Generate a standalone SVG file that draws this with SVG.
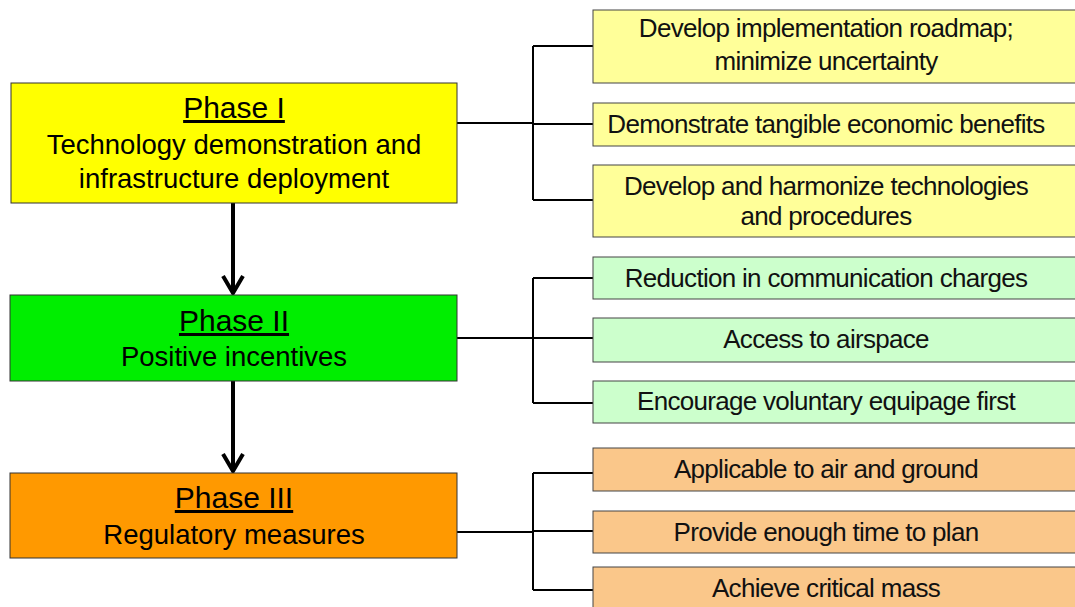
<svg xmlns="http://www.w3.org/2000/svg" width="1075" height="607" viewBox="0 0 1075 607">
<style>
.ph{stroke:#333;stroke-width:1}
.it{stroke:#444;stroke-width:1}
.t{font-family:"Liberation Sans",Arial,sans-serif;fill:#000;text-anchor:middle}
.pt{font-size:30px;text-decoration:underline}
.ps{font-size:27.5px}
.st{font-size:26px;letter-spacing:-0.7px;fill:#111}
.ln{stroke:#000;stroke-width:2;fill:none}
.ar{stroke:#000;stroke-width:4;fill:none}
</style>
<rect width="1075" height="607" fill="#fff"/>
<g id="connectors">
<path class="ar" d="M233 203V293M223 276L233 293L243 276"/>
<path class="ar" d="M233 381V471M223 454L233 471L243 454"/>
<path class="ln" d="M457 123H533M533 46V200M533 46H593M533 124H593M533 200H593"/>
<path class="ln" d="M457 338H533M533 278V403M533 278H593M533 338H593M533 403H593"/>
<path class="ln" d="M457 532H533M533 473V590M533 473H593M533 531H593M533 590H593"/>
</g>
<g id="phase1">
<rect class="ph" x="11" y="83" width="446" height="120" fill="#ffff00"/>
<text class="t pt" x="234" y="118">Phase I</text>
<text class="t ps" x="234" y="154">Technology demonstration and</text>
<text class="t ps" x="234" y="188">infrastructure deployment</text>
</g>
<g id="phase2">
<rect class="ph" x="10" y="295" width="447" height="86" fill="#00ee00"/>
<text class="t pt" x="234" y="331">Phase II</text>
<text class="t ps" x="234" y="366">Positive incentives</text>
</g>
<g id="phase3">
<rect class="ph" x="10" y="473" width="447" height="85" fill="#ff9900"/>
<text class="t pt" x="234" y="508">Phase III</text>
<text class="t ps" x="234" y="544">Regulatory measures</text>
</g>
<g id="i1a"><rect class="it" x="593" y="10" width="500" height="73" fill="#ffff99"/>
<text class="t st" x="826" y="37">Develop implementation roadmap;</text>
<text class="t st" x="826" y="70">minimize uncertainty</text></g>
<g id="i1b"><rect class="it" x="593" y="103" width="500" height="43" fill="#ffff99"/>
<text class="t st" x="826" y="133">Demonstrate tangible economic benefits</text></g>
<g id="i1c"><rect class="it" x="593" y="165" width="500" height="72" fill="#ffff99"/>
<text class="t st" x="826" y="195">Develop and harmonize technologies</text>
<text class="t st" x="826" y="225">and procedures</text></g>
<g id="i2a"><rect class="it" x="593" y="257" width="500" height="42" fill="#ccffcc"/>
<text class="t st" x="826" y="287">Reduction in communication charges</text></g>
<g id="i2b"><rect class="it" x="593" y="318" width="500" height="44" fill="#ccffcc"/>
<text class="t st" x="826" y="348">Access to airspace</text></g>
<g id="i2c"><rect class="it" x="593" y="381" width="500" height="42" fill="#ccffcc"/>
<text class="t st" x="826" y="410">Encourage voluntary equipage first</text></g>
<g id="i3a"><rect class="it" x="593" y="448" width="500" height="43" fill="#fac78a"/>
<text class="t st" x="826" y="478">Applicable to air and ground</text></g>
<g id="i3b"><rect class="it" x="593" y="511" width="500" height="42" fill="#fac78a"/>
<text class="t st" x="826" y="541">Provide enough time to plan</text></g>
<g id="i3c"><rect class="it" x="593" y="567" width="500" height="60" fill="#fac78a"/>
<text class="t st" x="826" y="597">Achieve critical mass</text></g>
</svg>
